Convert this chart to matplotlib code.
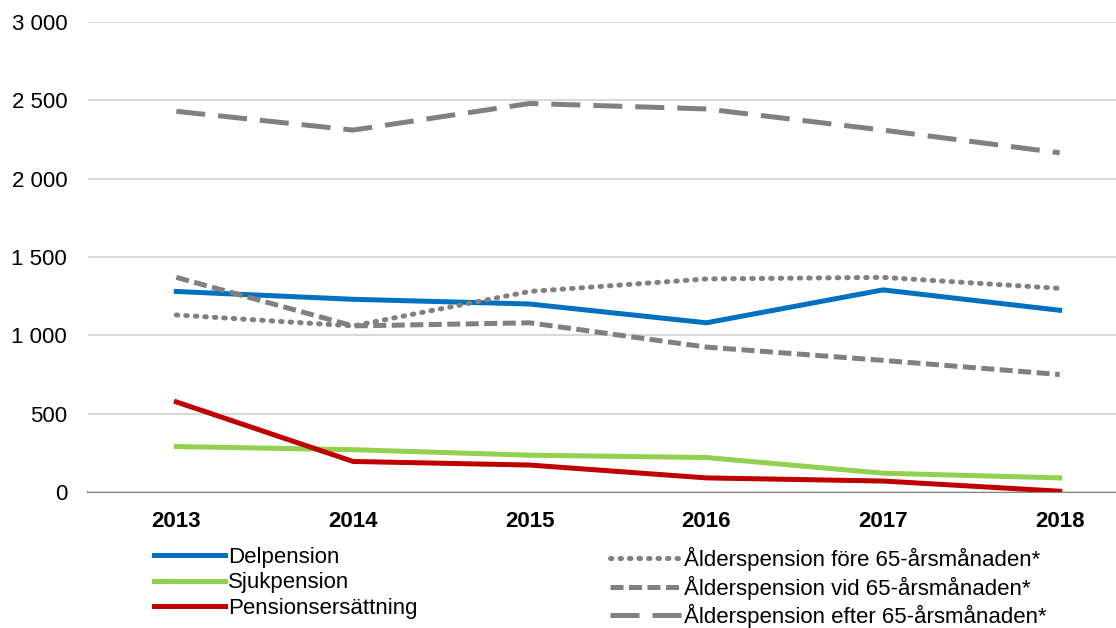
import matplotlib.pyplot as plt
from matplotlib.ticker import FuncFormatter

plt.rcParams['font.family'] = ['Liberation Sans', 'DejaVu Sans']

years = ['2013', '2014', '2015', '2016', '2017', '2018']
delpension = [1280, 1230, 1200, 1080, 1290, 1160]
sjukpension = [290, 270, 235, 220, 120, 90]
pensionsersattning = [575, 195, 172, 90, 70, 5]
fore65 = [1130, 1060, 1280, 1360, 1370, 1300]
vid65 = [1370, 1060, 1080, 925, 840, 750]
efter65 = [2430, 2310, 2480, 2445, 2310, 2165]

fig = plt.figure(figsize=(11.16, 6.28), dpi=100)
ax = fig.add_axes([88 / 1116, 1 - 492 / 628, (1148 - 88) / 1116, 470 / 628])

x = range(len(years))
lw = 3.6
l1, = ax.plot(x, delpension, color='#0070C0', lw=lw, label='Delpension')
l2, = ax.plot(x, sjukpension, color='#92D050', lw=lw, label='Sjukpension')
l3, = ax.plot(x, pensionsersattning, color='#C00000', lw=lw, label='Pensionsersättning')
l4, = ax.plot(x, fore65, color='#808080', lw=lw, ls=(0, (0.3, 1.6)), dash_capstyle='round',
              label='Ålderspension före 65-årsmånaden*')
l5, = ax.plot(x, vid65, color='#808080', lw=lw, ls=(0, (2.6, 1.1)),
              label='Ålderspension vid 65-årsmånaden*')
l6, = ax.plot(x, efter65, color='#808080', lw=lw, ls=(0, (5.8, 2.6)),
              label='Ålderspension efter 65-årsmånaden*')

ax.set_xlim(-0.5, 5.5)
ax.set_ylim(0, 3000)
ax.set_yticks(range(0, 3001, 500))
ax.yaxis.set_major_formatter(FuncFormatter(lambda v, p: f'{int(v):,}'.replace(',', ' ')))
ax.set_xticks(list(x))
ax.set_xticklabels(years, fontweight='bold')
ax.tick_params(axis='both', length=0, labelsize=16, colors='black')
ax.tick_params(axis='x', pad=14)
ax.tick_params(axis='y', pad=15)
ax.grid(axis='y', color='#D9D9D9', lw=1.5)
ax.set_axisbelow(True)
for s in ['top', 'right', 'left']:
    ax.spines[s].set_visible(False)
ax.spines['bottom'].set_color('#868686')
ax.spines['bottom'].set_linewidth(1.5)
ax.spines['bottom'].set_zorder(0.5)

kw = dict(frameon=False, fontsize=16, handlelength=3.2, handletextpad=0.12,
          labelspacing=0.2, borderaxespad=0, borderpad=0)
leg1 = fig.legend(handles=[l1, l2, l3], loc='upper left',
                  bbox_to_anchor=(154 / 1116, 1 - 547 / 628), **kw)
leg2 = fig.legend(handles=[l4, l5, l6], loc='upper left',
                  bbox_to_anchor=(610 / 1116, 1 - 547 / 628), **kw)

fig.savefig('out.png', dpi=100)
